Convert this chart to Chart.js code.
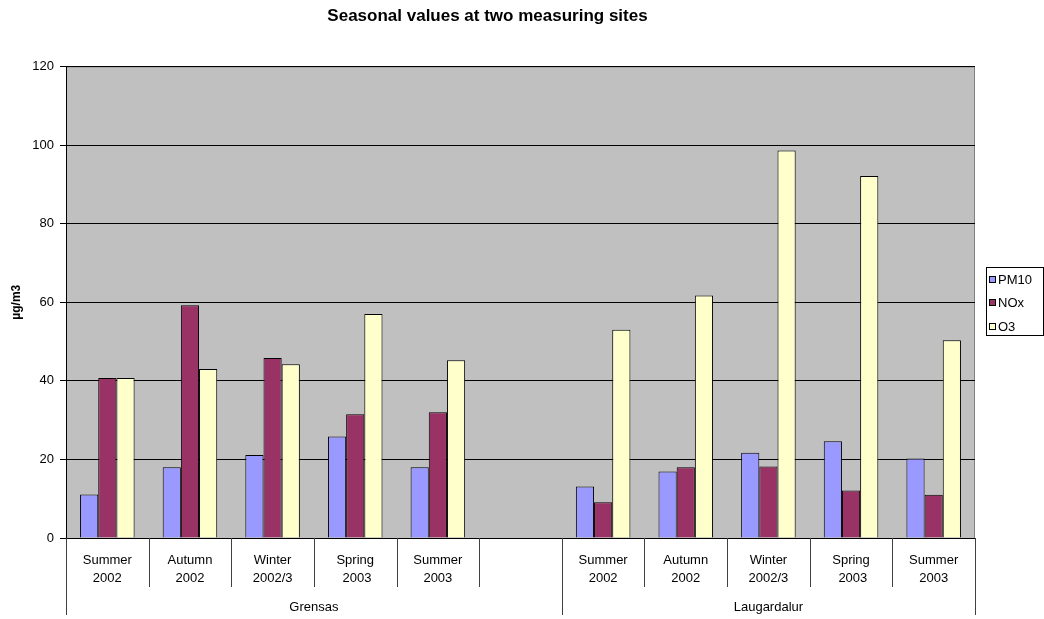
<!DOCTYPE html>
<html>
<head>
<meta charset="utf-8">
<script src="https://cdn.jsdelivr.net/npm/chart.js@4/dist/chart.umd.min.js"></script>
<style>
  html, body { margin: 0; padding: 0; background: #fff; }
  #wrap { width: 1044px; height: 619px; position: relative; }
</style>
</head>
<body>
<div id="wrap"><canvas id="c" width="1044" height="619"></canvas></div>
<script>
const categories = [
  ["Summer", "2002"], ["Autumn", "2002"], ["Winter", "2002/3"], ["Spring", " 2003"], ["Summer", "2003"],
  "",
  ["Summer", "2002"], ["Autumn", "2002"], ["Winter", "2002/3"], ["Spring", " 2003"], ["Summer", "2003"]
];
const groupNames = ["Grensas", "Laugardalur"];
const groupSizes = [6, 5];
const pm10 = [11.1, 18.0, 21.1, 25.8, 18.0, null, 13.1, 16.9, 21.7, 24.6, 20.2];
const nox  = [40.7, 59.2, 45.8, 31.5, 32.0, null, 9.1, 18.0, 18.2, 12.1, 11.0];
const o3   = [40.7, 43.0, 44.2, 57.0, 45.2, null, 53.0, 61.7, 98.6, 92.1, 50.3];
const yTicks = [0, 20, 40, 60, 80, 100, 120];

const FONT = "Arial, 'Liberation Sans', sans-serif";

const bgPlugin = {
  id: 'plotBg',
  beforeDraw(chart) {
    const {ctx, chartArea: a} = chart;
    ctx.save();
    ctx.fillStyle = '#C0C0C0';
    ctx.fillRect(a.left, a.top, a.right - a.left, a.bottom - a.top);
    ctx.strokeStyle = '#808080';
    ctx.lineWidth = 1;
    ctx.strokeRect(a.left + 0.5, a.top + 0.5, a.right - a.left - 1, a.bottom - a.top);
    ctx.restore();
  },
  afterDraw(chart) {
    const {ctx, chartArea: a} = chart;
    const xs = chart.scales.x;
    const n = categories.length;
    const step = (xs.getPixelForValue(1) - xs.getPixelForValue(0));
    ctx.save();
    ctx.lineWidth = 1;
    const groupBounds = [0];
    let acc = 0;
    groupSizes.forEach(s => { acc += s; groupBounds.push(acc); });
    for (let i = 0; i <= n; i++) {
      const x = Math.round(xs.getPixelForValue(0) - step / 2 + i * step) + 0.5;
      const long = groupBounds.includes(i);
      ctx.beginPath();
      ctx.moveTo(x, a.bottom);
      ctx.lineTo(x, a.bottom + (long ? 77 : 49));
      ctx.strokeStyle = '#404040';
      ctx.stroke();
    }
    ctx.fillStyle = '#000';
    ctx.font = '13px ' + FONT;
    ctx.textAlign = 'center';
    ctx.textBaseline = 'middle';
    for (let g = 0; g < groupNames.length; g++) {
      const x0 = xs.getPixelForValue(0) - step / 2 + groupBounds[g] * step;
      const x1 = xs.getPixelForValue(0) - step / 2 + groupBounds[g + 1] * step;
      ctx.fillText(groupNames[g], (x0 + x1) / 2, a.bottom + 69);
    }
    // legend
    const lx = 986, ly = 267, lw = 58, lh = 69;
    ctx.fillStyle = '#fff';
    ctx.fillRect(lx, ly, lw, lh);
    ctx.strokeStyle = '#000';
    ctx.strokeRect(lx + 0.5, ly + 0.5, lw - 1, lh - 1);
    ctx.textAlign = 'left';
    ctx.font = '13px ' + FONT;
    chart.data.datasets.forEach((ds, i) => {
      const cy = ly + 12 + i * 23.5;
      ctx.fillStyle = ds.backgroundColor;
      ctx.fillRect(lx + 3, Math.round(cy - 3.5), 7, 7);
      ctx.strokeStyle = '#000';
      ctx.strokeRect(lx + 3.5, Math.round(cy - 3.5) + 0.5, 6, 6);
      ctx.fillStyle = '#000';
      ctx.fillText(ds.label, lx + 12, cy + 1);
    });
    ctx.restore();
  }
};

new Chart(document.getElementById('c'), {
  type: 'bar',
  data: {
    labels: categories,
    datasets: [
      { label: 'PM10', data: pm10, backgroundColor: '#9999FF', borderColor: '#000', borderWidth: 1 },
      { label: 'NOx',  data: nox,  backgroundColor: '#993366', borderColor: '#000', borderWidth: 1 },
      { label: 'O3',   data: o3,   backgroundColor: '#FFFFCC', borderColor: '#000', borderWidth: 1 }
    ]
  },
  options: {
    responsive: false,
    animation: false,
    devicePixelRatio: 1,
    layout: { padding: { left: 0, right: 69, top: 0, bottom: 0 } },
    datasets: { bar: { categoryPercentage: 0.66, barPercentage: 1.0 } },
    plugins: {
      legend: { display: false },
      tooltip: { enabled: false },
      title: {
        display: true,
        text: 'Seasonal values at two measuring sites',
        color: '#000',
        font: { family: FONT, size: 17, weight: 'bold', lineHeight: 1.2 },
        padding: { top: 6, bottom: 40 }
      }
    },
    scales: {
      x: {
        type: 'category',
        offset: true,
        grid: { display: false, drawTicks: false },
        border: { display: false },
        ticks: {
          color: '#000',
          font: { family: FONT, size: 13, lineHeight: 1.4 },
          padding: 13,
          maxRotation: 0,
          autoSkip: false
        },
        afterFit(scale) { scale.height = 81; }
      },
      y: {
        min: 0, max: 120,
        afterBuildTicks(scale) { scale.ticks = yTicks.map(v => ({ value: v })); },
        grid: { color: '#000', lineWidth: 1, drawTicks: true, tickLength: 6, tickColor: '#000' },
        border: { display: true, color: '#000', width: 1 },
        ticks: { color: '#000', font: { family: FONT, size: 13 }, padding: 6 },
        title: {
          display: true, text: 'µg/m3', color: '#000',
          font: { family: FONT, size: 12, weight: 'bold' },
          padding: { top: 9, bottom: 0 }
        },
        afterFit(scale) { scale.width = 66; }
      }
    }
  },
  plugins: [bgPlugin]
});
</script>
</body>
</html>
